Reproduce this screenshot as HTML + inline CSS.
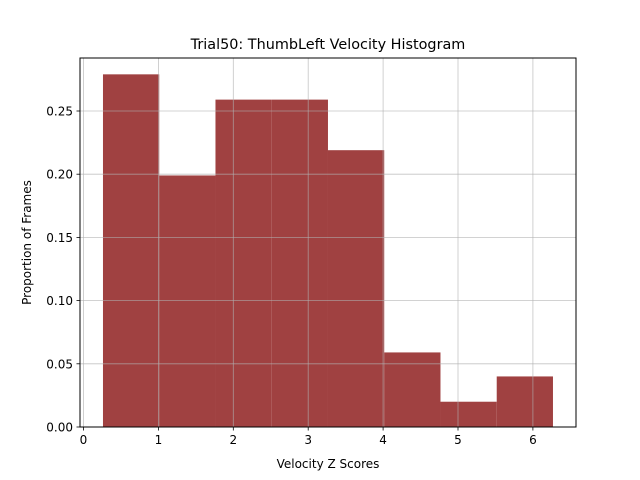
<!DOCTYPE html>
<html><head><meta charset="utf-8"><style>
body{margin:0;background:#fff;}
svg{display:block;font-family:"DejaVu Sans","Liberation Sans",sans-serif;}
</style></head><body>
<svg id="chart" width="640" height="480">
<rect width="640" height="480" fill="#fff"/>
<text x="328" y="49" font-size="14.4" text-anchor="middle">Trial50: ThumbLeft Velocity Histogram</text>
<g id="bars"></g>
<g id="grid"></g>
<g id="xticks"></g>
<g id="yticks"></g>
<rect x="80" y="58" width="496" height="369" fill="none" stroke="#000" stroke-width="1"/>
<text x="328" y="468" font-size="12" text-anchor="middle">Velocity Z Scores</text>
<text transform="translate(31,242.5) rotate(-90)" font-size="12" text-anchor="middle">Proportion of Frames</text>
</svg>
<script>
const binStart = 0.26;
const binWidth = 0.751;
const values = [0.279, 0.199, 0.259, 0.259, 0.219, 0.059, 0.02, 0.04];
const xTickLabels = ["0","1","2","3","4","5","6"];
const yTickValues = [0, 0.05, 0.10, 0.15, 0.20, 0.25];
const yTickLabels = ["0.00","0.05","0.10","0.15","0.20","0.25"];
const NS="http://www.w3.org/2000/svg";
function xs(v){return 83.5+v*74.9;}
function ys(v){return 427-v*1264;}
function mk(t,a,p){const e=document.createElementNS(NS,t);for(const k in a)e.setAttribute(k,a[k]);p.appendChild(e);return e;}
const grid=document.getElementById('grid'),bars=document.getElementById('bars'),xt=document.getElementById('xticks'),yt=document.getElementById('yticks');
values.forEach((v,i)=>{const x0=xs(binStart+i*binWidth),x1=xs(binStart+(i+1)*binWidth);
 const r=mk('rect',{x:x0,y:ys(v),width:x1-x0,height:ys(0)-ys(v),fill:'#a04141'},bars);
 });
xTickLabels.forEach((l,i)=>{const x=xs(+l);
 const g=mk('line',{x1:x,x2:x,y1:58,y2:427,stroke:'#b0b0b0','stroke-width':0.8,'stroke-opacity':0.75},grid);
 
 mk('line',{x1:x,x2:x,y1:427,y2:430.5,stroke:'#000','stroke-width':0.8},xt);
 const t=mk('text',{x:x,y:444,'font-size':12,'text-anchor':'middle'},xt);t.textContent=l;
 });
yTickValues.forEach((v,i)=>{const y=ys(v);
 const g=mk('line',{x1:80,x2:576,y1:y,y2:y,stroke:'#b0b0b0','stroke-width':0.8,'stroke-opacity':0.75},grid);
 
 mk('line',{x1:76.5,x2:80,y1:y,y2:y,stroke:'#000','stroke-width':0.8},yt);
 const t=mk('text',{x:73,y:y+4.5,'font-size':12,'text-anchor':'end'},yt);t.textContent=yTickLabels[i];
 });
</script>
</body></html>
